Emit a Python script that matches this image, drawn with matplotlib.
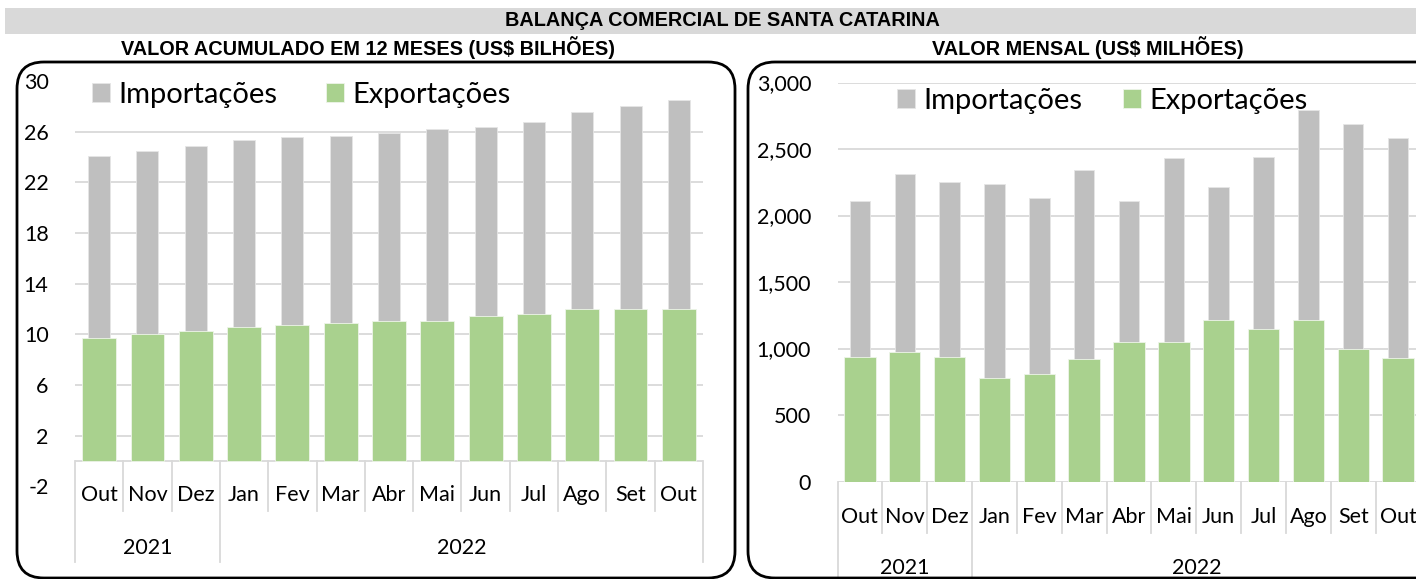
import numpy as np
import matplotlib
matplotlib.use("Agg")
import matplotlib.pyplot as plt
from matplotlib.patches import FancyBboxPatch, Rectangle
from matplotlib.ticker import FuncFormatter

# dados
meses = ["Out", "Nov", "Dez", "Jan", "Fev", "Mar", "Abr", "Mai", "Jun", "Jul", "Ago", "Set", "Out"]
anos = ["2021", "2022"]
n_2021 = 3

# acumulado 12 meses (US$ bilhoes)
imp_12m = [24.05, 24.49, 24.86, 25.33, 25.57, 25.68, 25.90, 26.20, 26.36, 26.73, 27.52, 28.02, 28.49]
exp_12m = [9.68, 10.02, 10.26, 10.55, 10.73, 10.89, 11.05, 11.07, 11.44, 11.63, 11.97, 12.00, 11.97]

# mensal (US$ milhoes)
imp_mes = [2107, 2312, 2255, 2237, 2135, 2340, 2107, 2430, 2212, 2438, 2796, 2691, 2583]
exp_mes = [935, 973, 933, 778, 805, 924, 1048, 1048, 1211, 1146, 1211, 995, 925]

CINZA = "#BFBFBF"
VERDE = "#A9D18E"
GRADE = "#D9D9D9"
FONTE = ["Lato", "DejaVu Sans"]
FONTE_TIT = ["Liberation Sans", "DejaVu Sans"]

W, H = 1416, 579
fig = plt.figure(figsize=(W / 100, H / 100), dpi=100)


def px(x0, y_top, x1, y_bot):
    return [x0 / W, 1 - y_bot / H, (x1 - x0) / W, (y_bot - y_top) / H]


# faixa do titulo
fig.patches.append(Rectangle((5 / W, 1 - 34 / H), 1 - 5 / W, 26 / H, transform=fig.transFigure,
                             facecolor="#D9D9D9", edgecolor="none", zorder=0))
fig.text(722 / W, 1 - 21 / H, "BALANÇA COMERCIAL DE SANTA CATARINA", ha="center", va="center",
         fontsize=14.3, fontweight="bold", family=FONTE_TIT)
fig.text(368 / W, 1 - 48 / H, "VALOR ACUMULADO EM 12 MESES (US$ BILHÕES)", ha="center", va="center",
         fontsize=14.3, fontweight="bold", family=FONTE_TIT)
fig.text(1088 / W, 1 - 48 / H, "VALOR MENSAL (US$ MILHÕES)", ha="center", va="center",
         fontsize=14.3, fontweight="bold", family=FONTE_TIT)

# molduras arredondadas
for x0, x1 in [(17, 735), (748, 1470)]:
    fig.patches.append(FancyBboxPatch((x0 / W, 1 - 578 / H), (x1 - x0) / W, (578 - 62) / H,
                                      boxstyle="round,pad=0,rounding_size=0.019",
                                      mutation_aspect=W / H,
                                      transform=fig.transFigure, facecolor="none",
                                      edgecolor="black", linewidth=2.0, zorder=5))


def painel(ax, imp, exp, grades, ylim, ticks, fmt, y_mes, y_div, y_ano, y_div_ano, leg_xy, leg_sp):
    x = np.arange(len(meses))
    for g in grades:
        ax.axhline(g, color=GRADE, lw=1.3, zorder=0)
    ax.axhline(0, color=GRADE, lw=1.3, zorder=0)
    ax.bar(x, imp, width=0.455, color=CINZA, edgecolor="#E6E6E6", lw=0.6, zorder=2, label="Importações")
    ax.bar(x, exp, width=0.70, color=VERDE, edgecolor="#EEF5E9", lw=0.6, zorder=3, label="Exportações")
    ax.set_xlim(-0.5, len(meses) - 0.5)
    ax.set_ylim(*ylim)
    ax.set_yticks(ticks)
    ax.yaxis.set_major_formatter(FuncFormatter(fmt))
    ax.tick_params(axis="y", length=0, pad=19, labelsize=15.5)
    ax.set_xticks([])
    for s in ax.spines.values():
        s.set_visible(False)
    for lab in ax.get_yticklabels():
        lab.set_family(FONTE)

    # eixo de categorias em dois niveis
    for i, m in enumerate(meses):
        ax.text(i, y_mes, m, ha="center", va="center", fontsize=15.5, family=FONTE, clip_on=False)
    for b in range(len(meses) + 1):
        fundo = y_div_ano if b in (0, n_2021, len(meses)) else y_div
        ax.plot([b - 0.5, b - 0.5], [0, fundo], color=GRADE, lw=1.3, clip_on=False, zorder=1)
    ax.text((n_2021 - 1) / 2, y_ano, anos[0], ha="center", va="center", fontsize=15.5, family=FONTE,
            clip_on=False)
    ax.text((n_2021 + len(meses) - 1) / 2, y_ano, anos[1], ha="center", va="center", fontsize=15.5,
            family=FONTE, clip_on=False)

    ax.legend(loc="center left", bbox_to_anchor=leg_xy, bbox_transform=fig.transFigure, ncol=2,
              frameon=False, handlelength=0.6, handleheight=0.6, handletextpad=0.3,
              columnspacing=leg_sp, prop={"family": FONTE, "size": 21}, borderaxespad=0, borderpad=0)


# painel esquerdo: acumulado em 12 meses
ax1 = fig.add_axes(px(75, 81, 703, 486.3))
painel(ax1, imp_12m, exp_12m, grades=range(2, 27, 4), ylim=(-2, 30), ticks=range(-2, 31, 4),
       fmt=lambda v, p: f"{v:.0f}", y_mes=-2.7, y_div=-3.98, y_ano=-6.87, y_div_ano=-8.0,
       leg_xy=(92 / W, 1 - 95 / H), leg_sp=1.68)

# painel direito: mensal
ax2 = fig.add_axes(px(837.5, 82.5, 1420.5, 481.5))
painel(ax2, imp_mes, exp_mes, grades=range(500, 3001, 500), ylim=(0, 3000), ticks=range(0, 3001, 500),
       fmt=lambda v, p: f"{v:,.0f}", y_mes=-267, y_div=-387, y_ano=-650, y_div_ano=-800,
       leg_xy=(897 / W, 1 - 101 / H), leg_sp=1.4)

fig.savefig("out.png", dpi=100)
